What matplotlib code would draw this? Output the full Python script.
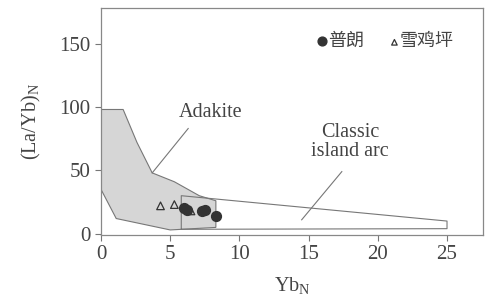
import matplotlib.pyplot as plt
from matplotlib.patches import Polygon

# Data
adakite_x = [0, 1.6, 2.6, 3.7, 5.3, 7.1, 8.3, 8.3, 5.0, 1.1, 0]
adakite_y = [98, 98, 72, 48, 41, 30, 26, 5, 3, 12, 35]
arc_x = [5.8, 5.8, 25, 25, 5.8]
arc_y = [3.5, 30, 10, 4, 3.5]
pulang_x = [6.0, 6.2, 7.3, 7.5, 8.3]
pulang_y = [20, 19, 18, 19, 14]
xjp_x = [4.3, 5.3, 6.5]
xjp_y = [22, 23, 18]

c = '#444444'
plt.rcParams['font.family'] = ['Liberation Serif', 'Noto Sans CJK SC']

fig = plt.figure(figsize=(4.91, 3.03), dpi=100)
ax = fig.add_axes([0.2057, 0.2244, 0.778, 0.749])

ax.add_patch(Polygon(list(zip(adakite_x, adakite_y)), closed=True,
                     facecolor='#d6d6d6', edgecolor='#777777', lw=0.8))
ax.plot(arc_x, arc_y, color='#777777', lw=0.8)

ax.scatter(xjp_x, xjp_y, marker='^', s=30, facecolor='none', edgecolor='#333333', lw=0.9, zorder=3)
ax.scatter(pulang_x, pulang_y, marker='o', s=50, color='#333333', zorder=4)

# leader lines and labels
ax.plot([6.3, 3.7], [83, 48], color='#777777', lw=0.8)
ax.text(7.9, 96, 'Adakite', ha='center', va='center', fontsize=14.5, color=c)
ax.plot([17.4, 14.5], [49, 11], color='#777777', lw=0.8)
ax.text(18, 72, 'Classic\nisland arc', ha='center', va='center', fontsize=14.5,
        color=c, linespacing=1.0)

# legend
ax.scatter([16.0], [152], marker='o', s=40, color='#333333', clip_on=False)
ax.text(16.4, 152, '普朗', ha='left', va='center', fontsize=13, color=c,
        family=['Noto Sans CJK SC'])
ax.scatter([21.2], [151], marker='^', s=16, facecolor='none', edgecolor='#333333', lw=0.9)
ax.text(21.6, 152, '雪鸡坪', ha='left', va='center', fontsize=13, color=c,
        family=['Noto Sans CJK SC'])

ax.set_xlim(0, 27.6)
ax.set_ylim(-1, 178)
ax.set_xticks([0, 5, 10, 15, 20, 25])
ax.set_yticks([0, 50, 100, 150])
ax.tick_params(direction='out', length=4, colors='#777777', labelcolor=c, labelsize=15)
for s in ax.spines.values():
    s.set_color('#888888')
    s.set_linewidth(0.9)

ax.set_xlabel('Yb$_\\mathregular{N}$', fontsize=14.5, color=c, labelpad=8)
ax.set_ylabel('(La/Yb)$_\\mathregular{N}$', fontsize=14.5, color=c, labelpad=12)

fig.savefig('out.png', dpi=100)
